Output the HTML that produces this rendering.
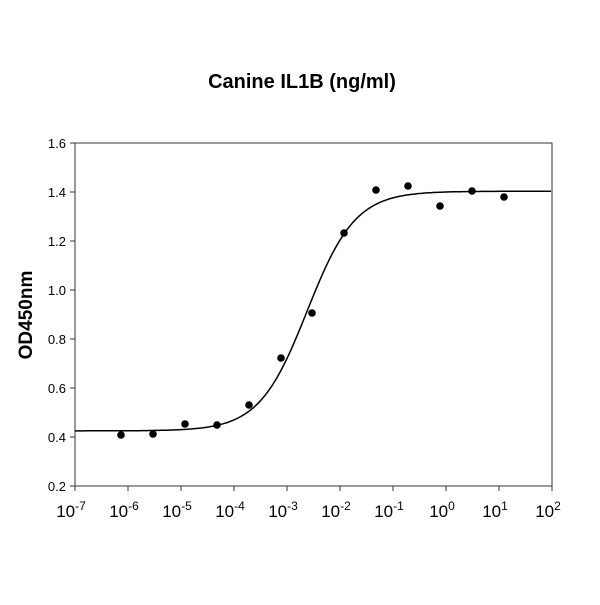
<!DOCTYPE html>
<html><head><meta charset="utf-8"><style>
body{margin:0;background:#fff}
svg text{font-family:"Liberation Sans",Arial,sans-serif}
</style></head><body>
<svg id="s" width="600" height="600" viewBox="0 0 600 600" xmlns="http://www.w3.org/2000/svg">
<rect width="600" height="600" fill="#fff"/>
<text x="302" y="88" text-anchor="middle" font-size="20" font-weight="bold">Canine IL1B (ng/ml)</text>
<text transform="translate(32,315) rotate(-90)" text-anchor="middle" font-size="19" font-weight="bold">OD450nm</text>
<rect x="75" y="143" width="477" height="343" fill="none" stroke="#333" stroke-width="1"/>
<g id="yt" font-size="13" text-anchor="end"></g>
<g id="xt" font-size="17" text-anchor="middle"></g>
<path id="curve" fill="none" stroke="#000" stroke-width="1.5"/>
<g id="pts"></g>
</svg>
<script>
var NS="http://www.w3.org/2000/svg",s=document.getElementById('s');
function el(t,a,p,txt){var e=document.createElementNS(NS,t);for(var k in a)e.setAttribute(k,a[k]);if(txt!=null)e.textContent=txt;(p||s).appendChild(e);return e;}
var yt=document.getElementById('yt'),xt=document.getElementById('xt');
for(var i=0;i<8;i++){var v=0.2+i*0.2,y=486-i*49;
el('line',{x1:70,x2:75,y1:y,y2:y,stroke:'#333'});
el('text',{x:66,y:y+5},yt,v.toFixed(1));}
for(var d=0;d<10;d++){var x=75+d*53;
el('line',{x1:x,x2:x,y1:486,y2:491,stroke:'#333'});
var t=el('text',{x:x-4,y:517},xt,'10');
el('tspan',{dy:-7,'font-size':12},t,String(d-7));}
var pts=[[121,435],[153,434],[185,424],[217,425],[249,405],[281,358],[312,313],[344,233],[376,190],[408,186],[440,206],[472,191],[504,197]];
var g=document.getElementById('pts');
pts.forEach(function(p){el('circle',{cx:p[0],cy:p[1],r:3.8,fill:'#000'},g);});
var d='';
for(var x=75;x<=552;x+=2){var L=-7+(x-75)/53;var f=1/(1+Math.exp(-2.2*(L+2.62)));var v=0.425+0.978*f;var y=486-(v-0.2)/0.2*49;d+=(x==75?'M':'L')+x+' '+y.toFixed(1);}
document.getElementById('curve').setAttribute('d',d);
</script>
</body></html>
